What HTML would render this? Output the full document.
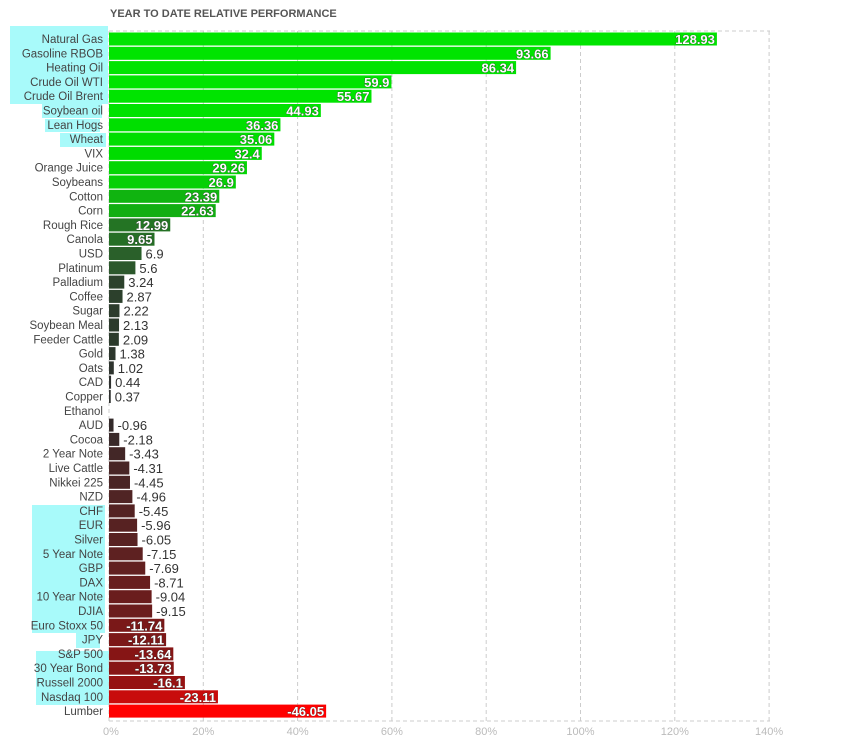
<!DOCTYPE html>
<html><head><meta charset="utf-8"><style>
body{margin:0;background:#fff;width:841px;height:756px;overflow:hidden}
svg{display:block;font-family:"Liberation Sans",sans-serif}
</style></head><body>
<svg id="s" width="841" height="756" xmlns="http://www.w3.org/2000/svg">
<text x="110" y="17" font-size="11" font-weight="bold" fill="#555">YEAR TO DATE RELATIVE PERFORMANCE</text>
<g fill="#a8fafa">
<rect x="10" y="26" width="98" height="78"/>
<rect x="42" y="104" width="60" height="14"/>
<rect x="45" y="119" width="55" height="13"/>
<rect x="60" y="133" width="46" height="14"/>
<rect x="32" y="505" width="73" height="128"/>
<rect x="76" y="632" width="24" height="16"/>
<rect x="36" y="651" width="73" height="54"/>
</g>
<g id="grid" stroke="#ccc" stroke-dasharray="4,3" fill="none"></g>
<g id="bars"></g>
</svg>
<script>
var d=[["Natural Gas",128.93,"#00e400"],["Gasoline RBOB",93.66,"#00e400"],["Heating Oil",86.34,"#00e400"],["Crude Oil WTI",59.9,"#00e400"],["Crude Oil Brent",55.67,"#00e400"],["Soybean oil",44.93,"#00e200"],["Lean Hogs",36.36,"#00df00"],["Wheat",35.06,"#00de00"],["VIX",32.4,"#00dc00"],["Orange Juice",29.26,"#04d604"],["Soybeans",26.9,"#06d006"],["Cotton",23.39,"#10b410"],["Corn",22.63,"#12ae12"],["Rough Rice",12.99,"#247424"],["Canola",9.65,"#256e25"],["USD",6.9,"#2a602a"],["Platinum",5.6,"#2c582c"],["Palladium",3.24,"#2c422c"],["Coffee",2.87,"#2c402c"],["Sugar",2.22,"#2c3c2c"],["Soybean Meal",2.13,"#2c3b2c"],["Feeder Cattle",2.09,"#2c3b2c"],["Gold",1.38,"#2d372d"],["Oats",1.02,"#2e342e"],["CAD",0.44,"#2f312f"],["Copper",0.37,"#2f312f"],["Ethanol",0,"#333"],["AUD",-0.96,"#332a2a"],["Cocoa",-2.18,"#3a2a2a"],["2 Year Note",-3.43,"#432727"],["Live Cattle",-4.31,"#482626"],["Nikkei 225",-4.45,"#4a2525"],["NZD",-4.96,"#502424"],["CHF",-5.45,"#542222"],["EUR",-5.96,"#572222"],["Silver",-6.05,"#582222"],["5 Year Note",-7.15,"#5e2121"],["GBP",-7.69,"#622020"],["DAX",-8.71,"#681e1e"],["10 Year Note",-9.04,"#6a1d1d"],["DJIA",-9.15,"#6b1d1d"],["Euro Stoxx 50",-11.74,"#7a1818"],["JPY",-12.11,"#7c1818"],["S&P 500",-13.64,"#861515"],["30 Year Bond",-13.73,"#871515"],["Russell 2000",-16.1,"#961212"],["Nasdaq 100",-23.11,"#c80c0c"],["Lumber",-46.05,"#ff0000"]];
var ns="http://www.w3.org/2000/svg",x0=109,k=4.715,g=document.getElementById("grid"),b=document.getElementById("bars"),s=document.getElementById("s");
function el(t,a,p,txt){var e=document.createElementNS(ns,t);for(var i in a)e.setAttribute(i,a[i]);if(txt!=null)e.textContent=txt;p.appendChild(e);return e;}
for(var i=0;i<=7;i++){var x=x0+i*20*k;el("line",{x1:x,y1:31,x2:x,y2:721},g);el("text",{x:x+(i==0?2:0),y:735,"font-size":11,fill:"#bbb","text-anchor":"middle"},s,(i*20)+"%");}
el("line",{x1:x0,y1:31,x2:770,y2:31},g);el("line",{x1:x0,y1:721,x2:770,y2:721},g);
d.forEach(function(r,i){var cy=39+i*14.3,w=Math.abs(r[1])*k;
el("text",{x:103,y:cy+4,"font-size":11.5,fill:"#444","text-anchor":"end"},b,r[0]);
if(w>0)el("rect",{x:x0,y:cy-6.5,width:w,height:13,fill:r[2]},b);
if(r[0]=="Ethanol")return;
if(Math.abs(r[1])>=9.6){el("text",{x:x0+w-2,y:cy+5,"font-size":13,"font-weight":"bold",fill:"#fff","text-anchor":"end",stroke:"#333","stroke-width":0.6,"paint-order":"stroke"},b,r[1]);}
else el("text",{x:x0+w+4,y:cy+5,"font-size":13,fill:"#333"},b,r[1]);
});
</script>
</body></html>
